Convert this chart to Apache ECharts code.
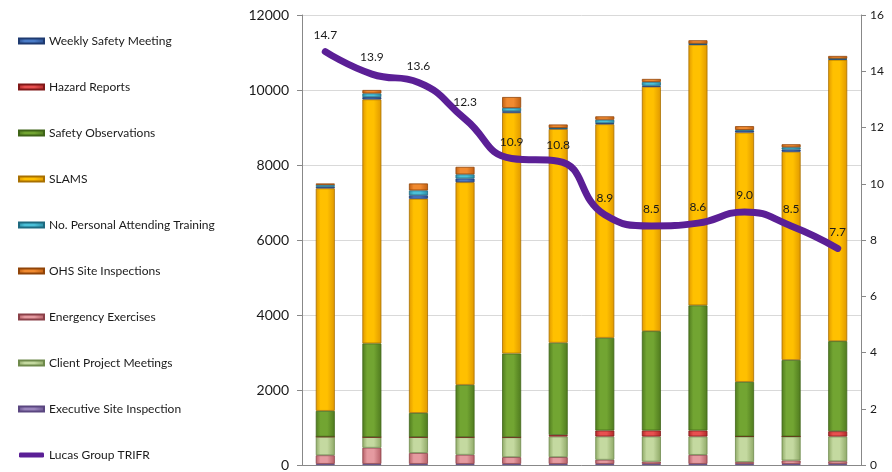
<!DOCTYPE html>
<html>
<head>
<meta charset="utf-8">
<script src="https://cdn.jsdelivr.net/npm/echarts@6/dist/echarts.min.js"></script>
<style>
html,body{margin:0;padding:0;background:#fff;}
#chart{width:892px;height:472px;}
</style>
</head>
<body>
<div id="chart"></div>
<script>
const categories = ['1','2','3','4','5','6','7','8','9','10','11','12'];
const executiveSiteInspection = [30, 30, 30, 30, 30, 30, 30, 30, 30, 30, 30, 30];
const energencyExercises      = [230, 430, 290, 243, 180, 180, 110, 60, 240, 50, 90, 70];
const clientProjectMeetings   = [495, 284, 424, 469, 530, 550, 620, 670, 490, 680, 640, 660];
const hazardReports           = [0, 0, 0, 0, 0, 40, 160, 160, 160, 0, 0, 140];
const safetyObservations      = [689, 2498, 644, 1396, 2233, 2460, 2472, 2649, 3338, 1457, 2040, 2403];
const slams                   = [5934, 6508, 5713, 5403, 6420, 5700, 5695, 6516, 6948, 6649, 5553, 7505];
const weeklySafetyMeeting     = [40, 60, 90, 100, 40, 20, 30, 30, 20, 50, 60, 20];
const personalTraining        = [50, 100, 132, 110, 90, 10, 90, 100, 10, 20, 60, 10];
const ohsSiteInspections      = [40, 90, 185, 200, 290, 90, 90, 80, 90, 100, 80, 70];
const trifr = [14.7, 13.9, 13.6, 12.3, 10.9, 10.8, 8.9, 8.5, 8.6, 9.0, 8.5, 7.7];
const leftTicks = [0, 2000, 4000, 6000, 8000, 10000, 12000];
const rightTicks = [0, 2, 4, 6, 8, 10, 12, 14, 16];

function cyl(mid, edge) {
  return new echarts.graphic.LinearGradient(0, 0, 1, 0, [
    {offset: 0, color: edge},
    {offset: 0.25, color: mid},
    {offset: 0.6, color: mid},
    {offset: 1, color: edge}
  ]);
}
function barSeries(name, data, mid, edge, border) {
  return {
    name: name, type: 'bar', stack: 'total', data: data, barWidth: 19,
    yAxisIndex: 0,
    itemStyle: {color: cyl(mid, edge), borderColor: border, borderWidth: 0.8},
    emphasis: {disabled: true}
  };
}

const series = [
  barSeries('Executive Site Inspection', executiveSiteInspection, '#9b86bd', '#6a5590', '#5a4680'),
  barSeries('Energency Exercises', energencyExercises, '#e59aa0', '#b55e66', '#8a4048'),
  barSeries('Client Project Meetings', clientProjectMeetings, '#c4d9a0', '#8ea866', '#6f8a4c'),
  barSeries('Hazard Reports', hazardReports, '#e85050', '#b02828', '#801818'),
  barSeries('Safety Observations', safetyObservations, '#72a532', '#4f7a1e', '#3f6418'),
  barSeries('SLAMS', slams, '#ffc000', '#e09800', '#a87000'),
  barSeries('Weekly Safety Meeting', weeklySafetyMeeting, '#4a7cc8', '#2a4e90', '#1e3a70'),
  barSeries('No. Personal Attending Training', personalTraining, '#4bc0d8', '#2a8ca4', '#1e6a80'),
  barSeries('OHS Site Inspections', ohsSiteInspections, '#f08a30', '#c05e10', '#904408'),
  {
    name: 'Lucas Group TRIFR', type: 'line', yAxisIndex: 1, data: trifr,
    smooth: 0.5, symbol: 'circle', symbolSize: 1, showSymbol: true, z: 10,
    lineStyle: {color: '#5b1f96', width: 7, cap: 'round'},
    itemStyle: {color: '#5b1f96'},
    label: {show: true, position: 'top', distance: 10, fontSize: 12, color: '#1a1a1a',
            fontFamily: 'Lato', formatter: p => p.value.toFixed(1)},
    labelLayout: {hideOverlap: false},
    emphasis: {disabled: true}
  }
];

const legendNames = ['Weekly Safety Meeting','Hazard Reports','Safety Observations','SLAMS',
  'No. Personal Attending Training','OHS Site Inspections','Energency Exercises',
  'Client Project Meetings','Executive Site Inspection','Lucas Group TRIFR'];

const chart = echarts.init(document.getElementById('chart'), null, {renderer: 'canvas'});
chart.setOption({
  animation: false,
  backgroundColor: '#ffffff',
  textStyle: {fontFamily: 'Lato'},
  legend: {
    orient: 'vertical', left: 18, top: 34, padding: 0,
    itemWidth: 25, itemHeight: 5, itemGap: 32,
    icon: 'rect',
    data: legendNames.map(n => n === 'Lucas Group TRIFR' ? {name: n, icon: 'roundRect'} : {name: n}),
    textStyle: {fontSize: 12, color: '#1a1a1a', fontFamily: 'Lato', lineHeight: 14},
    selectedMode: false
  },
  grid: {left: 302, right: 31, top: 15, bottom: 4, containLabel: false},
  xAxis: {
    type: 'category', data: categories,
    axisLine: {show: true, lineStyle: {color: '#888'}},
    axisTick: {show: false}, axisLabel: {show: false}
  },
  yAxis: [
    {
      type: 'value', min: 0, max: 12000, interval: 2000,
      axisLine: {show: true, lineStyle: {color: '#888'}},
      axisTick: {show: true, length: 5, inside: false, lineStyle: {color: '#888'}},
      axisLabel: {fontSize: 14, color: '#1a1a1a', margin: 13, fontFamily: 'Lato',
                  formatter: v => String(v)},
      splitLine: {show: true, lineStyle: {color: '#d9d9d9'}}
    },
    {
      type: 'value', min: 0, max: 16, interval: 2, position: 'right',
      axisLine: {show: true, lineStyle: {color: '#888'}},
      axisTick: {show: true, length: 5, lineStyle: {color: '#888'}},
      axisLabel: {fontSize: 12, color: '#1a1a1a', margin: 9, fontFamily: 'Lato'},
      splitLine: {show: false}
    }
  ],
  series: series
});
</script>
</body>
</html>
